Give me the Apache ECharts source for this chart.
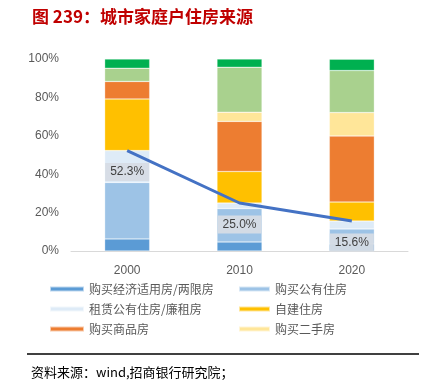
<!DOCTYPE html>
<html>
<head>
<meta charset="utf-8">
<script src="https://cdn.jsdelivr.net/npm/echarts@6/dist/echarts.min.js"></script>
<style>html,body{margin:0;padding:0;background:#fff;}#c{width:425px;height:383px;}</style>
</head>
<body>
<div id="c"></div>
<script>
var categories = ['2000', '2010', '2020'];
var econHousing = [6.3, 4.7, 3.7];      // 购买经济适用房/两限房
var publicBuy = [29.4, 17.4, 7.8];      // 购买公有住房
var publicRent = [16.6, 2.9, 4.1];      // 租赁公有住房/廉租房
var selfBuilt = [26.9, 16.4, 9.9];      // 自建住房
var commercial = [9.1, 26.1, 34.4];     // 购买商品房
var secondHand = [0, 4.8, 12.2];        // 购买二手房
var otherA = [6.9, 23.4, 21.9];         // 其他（浅绿）
var otherB = [4.8, 4.3, 5.9];           // 其他（深绿）
var lineValues = [52.3, 25.0, 15.6];
var yTicks = [0, 20, 40, 60, 80, 100];

var names = ['购买经济适用房/两限房', '购买公有住房', '租赁公有住房/廉租房', '自建住房', '购买商品房', '购买二手房', '其他1', '其他2'];
var colors = ['#5b9bd5', '#9dc3e6', '#deebf7', '#ffc000', '#ed7d31', '#ffe699', '#a9d18e', '#00b050'];
var datas = [econHousing, publicBuy, publicRent, selfBuilt, commercial, secondHand, otherA, otherB];

var series = datas.map(function (d, i) {
  return {
    name: names[i], type: 'bar', stack: 's', barWidth: 45,
    data: d,
    itemStyle: { color: colors[i], borderColor: 'rgba(255,255,255,0.6)', borderWidth: 0.5 },
    emphasis: { disabled: true }
  };
});
series.push({
  name: 'line', type: 'line', data: lineValues,
  symbol: 'circle', symbolSize: 1, showSymbol: true,
  itemStyle: { color: 'rgba(0,0,0,0)' },
  lineStyle: { color: '#4472c4', width: 3 },
  z: 5,
  label: {
    show: true, position: 'bottom', distance: 12,
    formatter: function (p) { return Number(p.value).toFixed(1) + '%'; },
    fontSize: 12, color: '#404040', fontFamily: 'Liberation Sans',
    backgroundColor: 'rgba(214,220,229,0.95)', padding: [3, 5]
  },
  labelLayout: { hideOverlap: false },
  emphasis: { disabled: true }
});

var legendText = { fontSize: 12, color: '#595959', fontFamily: 'Noto Sans CJK SC' };
var chart = echarts.init(document.getElementById('c'), null, { renderer: 'canvas' });
chart.setOption({
  animation: false,
  grid: { left: 71, right: 17, top: 59, bottom: 132 },
  xAxis: {
    type: 'category', data: categories,
    axisLine: { lineStyle: { color: '#d9d9d9', width: 1 } },
    axisTick: { show: false },
    axisLabel: { color: '#595959', fontSize: 12, margin: 14, fontFamily: 'Liberation Sans' }
  },
  yAxis: {
    type: 'value', min: 0, max: 100, interval: 20,
    axisLine: { show: false }, axisTick: { show: false },
    splitLine: { show: false },
    axisLabel: { color: '#595959', fontSize: 12, margin: 12, fontFamily: 'Liberation Sans',
      formatter: function (v) { return yTicks.indexOf(v) >= 0 ? v + '%' : ''; } }
  },
  legend: [
    { data: [names[0], names[2], names[4]], orient: 'vertical', left: 44, top: 278,
      itemWidth: 34, itemHeight: 5, itemGap: 8, icon: 'rect', textStyle: legendText, selectedMode: false },
    { data: [names[1], names[3], names[5]], orient: 'vertical', left: 233, top: 278,
      itemWidth: 31, itemHeight: 5, itemGap: 8, icon: 'rect', textStyle: legendText, selectedMode: false }
  ],
  graphic: [
    { type: 'text', left: 32, top: 8, style: { text: '图 239：城市家庭户住房来源', fill: '#c00000',
      font: 'bold 17px "Noto Sans CJK SC"' } },
    { type: 'rect', shape: { x: 27, y: 353, width: 392, height: 2 }, style: { fill: '#404040' } },
    { type: 'text', left: 31, top: 366, style: { text: '资料来源：wind,招商银行研究院；', fill: '#000',
      font: '13px "Noto Sans CJK SC"' } }
  ],
  series: series
});
</script>
</body>
</html>
